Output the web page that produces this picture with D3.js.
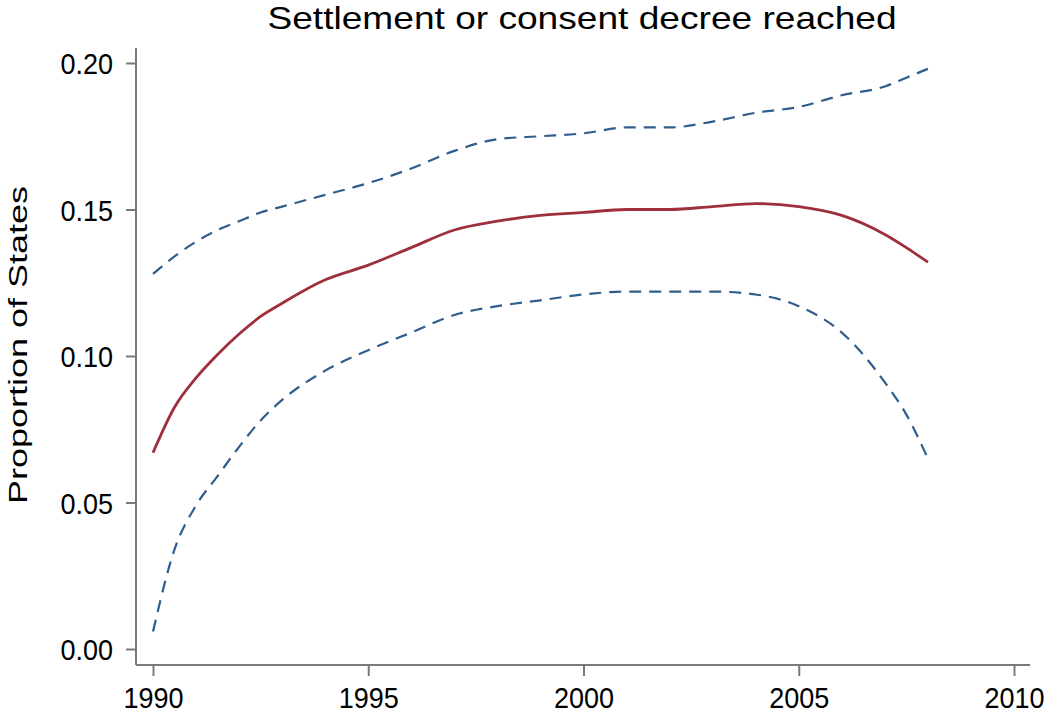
<!DOCTYPE html>
<html>
<head>
<meta charset="utf-8">
<script src="https://cdn.jsdelivr.net/npm/d3@7"></script>
<style>
  body { margin: 0; background: #fff; }
  svg text { font-family: "Liberation Sans", Arial, sans-serif; fill: #000; }
</style>
</head>
<body>
<script>
// data
var years = [1990, 1990.5, 1991, 1991.5, 1992, 1992.5, 1993, 1994, 1995, 1996, 1997, 1998, 1999,
             2000, 2001, 2002, 2003, 2004, 2005, 2006, 2007, 2007.5, 2008];
var fitValues = [0.067, 0.0825, 0.0925, 0.1005, 0.1075, 0.1135, 0.118, 0.126, 0.131, 0.137, 0.143, 0.146, 0.148,
                 0.149, 0.150, 0.150, 0.151, 0.152, 0.151, 0.148, 0.1415, 0.137, 0.132];
var upperValues = [0.128, 0.134, 0.139, 0.143, 0.146, 0.149, 0.151, 0.155, 0.159, 0.164, 0.170, 0.174, 0.175,
                   0.176, 0.178, 0.178, 0.180, 0.183, 0.185, 0.189, 0.192, 0.195, 0.198];
var lowerValues = [0.006, 0.034, 0.049, 0.059, 0.069, 0.078, 0.085, 0.095, 0.102, 0.108, 0.114, 0.117, 0.119,
                   0.121, 0.122, 0.122, 0.122, 0.121, 0.117, 0.108, 0.091, 0.080, 0.065];
var xTicks = [1990, 1995, 2000, 2005, 2010];
var yTicks = [0, 0.05, 0.10, 0.15, 0.20];

var svg = d3.select("body")
    .append("svg")
    .attr("width", 1050)
    .attr("height", 715);

var xScale = d3.scaleLinear()
    .domain([1990, 2010])
    .range([153, 1014]);

var yScale = d3.scaleLinear()
    .domain([0, 0.20])
    .range([649, 63]);

// axes (stata style, labels a bit narrow)
var xAxis = d3.axisBottom(xScale).tickValues(xTicks).tickFormat(d3.format("d")).tickSize(11).tickPadding(11);
var yAxis = d3.axisLeft(yScale).tickValues(yTicks).tickFormat(d3.format(".2f")).tickSize(10).tickPadding(13);

var gx = svg.append("g").attr("transform", "translate(0,665)").call(xAxis);
var gy = svg.append("g").attr("transform", "translate(136,0)").call(yAxis);

gx.select(".domain").attr("d", "M136,0H1030");
gy.select(".domain").attr("d", "M0,48V665");

[gx, gy].forEach(function(g){
    g.selectAll(".domain, line").attr("stroke", "#7a7a7a").attr("stroke-width", 2);
    g.selectAll("text").style("font-size", "30px").attr("fill", "#000");
});
gx.selectAll("text").attr("transform", "scale(0.9,1)");
gy.selectAll("text")
    .attr("dy", "0.36em")
    .attr("x", -23 / 0.9)
    .attr("transform", "scale(0.9,1)");

// lines
var line = function(vals){
    return d3.line()
        .x(function(d, i){ return xScale(years[i]); })
        .y(function(d){ return yScale(d); })
        .curve(d3.curveMonotoneX)(vals);
};

svg.append("path")
    .attr("d", line(upperValues))
    .attr("fill", "none")
    .attr("stroke", "#2f5d8c")
    .attr("stroke-width", 2.2)
    .attr("stroke-dasharray", "12,8");

svg.append("path")
    .attr("d", line(lowerValues))
    .attr("fill", "none")
    .attr("stroke", "#2f5d8c")
    .attr("stroke-width", 2.2)
    .attr("stroke-dasharray", "12,8");

svg.append("path")
    .attr("d", line(fitValues))
    .attr("fill", "none")
    .attr("stroke", "#9e2f3c")
    .attr("stroke-width", 2.8);

// titles
svg.append("text")
    .text("Settlement or consent decree reached")
    .attr("transform", "translate(582,29) scale(1.16,1)")
    .attr("text-anchor", "middle")
    .style("font-size", "32px");

svg.append("text")
    .text("Proportion of States")
    .attr("transform", "translate(27,345) rotate(-90) scale(1,0.72)")
    .attr("text-anchor", "middle")
    .style("font-size", "36px");
</script>
</body>
</html>
